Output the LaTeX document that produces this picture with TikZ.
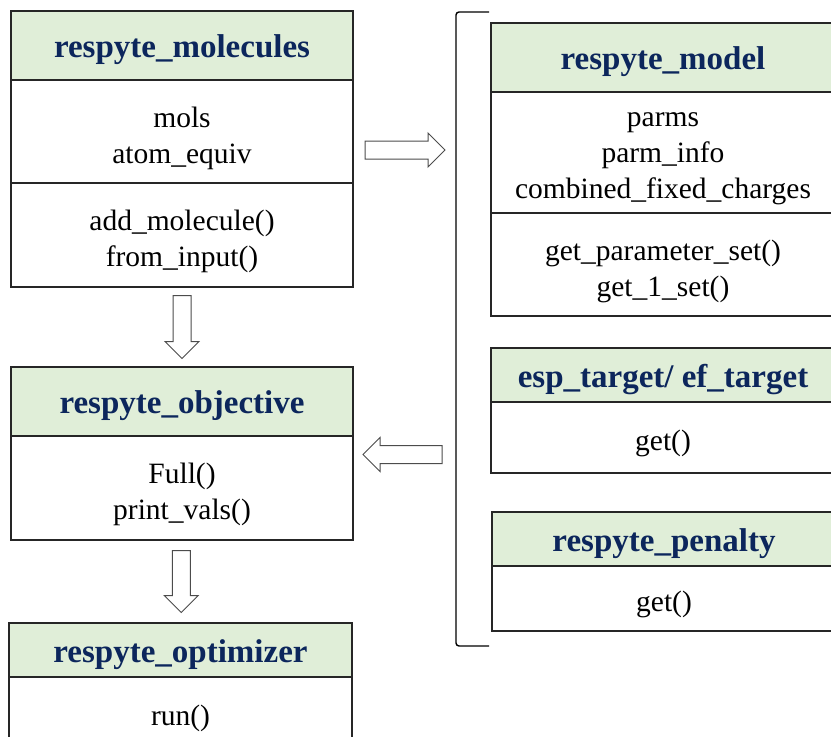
\documentclass[tikz,border=0pt]{standalone}
\usepackage{fontspec}
\setmainfont{Liberation Serif}
\usetikzlibrary{positioning, calc}
\definecolor{headfill}{RGB}{224,238,216}
\definecolor{headtext}{RGB}{12,38,92}
\tikzset{
    box/.style={draw=black!85, line width=1.4pt, inner sep=0pt, outer sep=0pt, align=center}, % one cell of a class box
    head/.style={box, fill=headfill, text=headtext, font=\fontsize{33}{38}\selectfont\bfseries, text height=31pt, text depth=7pt}, % class name
    body/.style={box, fill=white, font=\fontsize{29.5}{36}\selectfont}, % attributes and methods
    pics/blockarr/.style={code={ % hollow block arrow, #1 = half its length
        \draw[draw=black!70, fill=white, line width=1pt]
            (-#1,-9) -- ({#1-17},-9) -- ({#1-17},-17) -- (#1,0) -- ({#1-17},17) -- ({#1-17},9) -- (-#1,9) -- cycle;
    }},
}

\begin{document}
\begin{tikzpicture}[x=1pt, y=-1pt]
    \clip (0,0) rectangle (831,737);

    % left column
    \node[head, minimum width=342pt, minimum height=69pt, anchor=north west] (mol-head) at (11,11) {respyte\_molecules};
    \node[body, minimum width=342pt, minimum height=103pt, text height=63pt, text depth=0pt, below=0pt of mol-head] (mol-attr) {mols\\atom\_equiv};
    \node[body, minimum width=342pt, minimum height=104pt, text height=63pt, text depth=0pt, below=0pt of mol-attr] (mol-meth) {add\_molecule()\\from\_input()};

    \node[head, minimum width=342pt, minimum height=69pt, anchor=north west] (obj-head) at (11,367) {respyte\_objective};
    \node[body, minimum width=342pt, minimum height=104pt, text height=63pt, text depth=0pt, below=0pt of obj-head] (obj-meth) {Full()\\print\_vals()};

    \node[head, minimum width=343pt, minimum height=54pt, anchor=north west] (opt-head) at (9,623) {respyte\_optimizer};
    \node[body, minimum width=343pt, minimum height=72pt, text height=25pt, text depth=0pt, below=0pt of opt-head] (opt-meth) {run()};

    % right column
    \node[head, minimum width=344pt, minimum height=69pt, anchor=north west] (mod-head) at (491,23) {respyte\_model};
    \node[body, minimum width=344pt, minimum height=121pt, text height=91pt, text depth=0pt, below=0pt of mod-head] (mod-attr) {parms\\parm\_info\\combined\_fixed\_charges};
    \node[body, minimum width=344pt, minimum height=103pt, text height=63pt, text depth=0pt, below=0pt of mod-attr] (mod-meth) {get\_parameter\_set()\\get\_1\_set()};

    \node[head, minimum width=344pt, minimum height=54pt, anchor=north west] (tgt-head) at (491,348) {esp\_target/ ef\_target};
    \node[body, minimum width=344pt, minimum height=71pt, text height=25pt, text depth=0pt, below=0pt of tgt-head] (tgt-meth) {get()};

    \node[head, minimum width=344pt, minimum height=54pt, anchor=north west] (pen-head) at (492,512) {respyte\_penalty};
    \node[body, minimum width=344pt, minimum height=65pt, text height=25pt, text depth=0pt, below=0pt of pen-head] (pen-meth) {get()};

    % bracket round the right column
    \coordinate (brk-top) at (489,12);
    \coordinate (brk-bot) at (489,646);
    \draw[line width=1.4pt, rounded corners=3pt] (brk-top) -- (456,12) -- (456,646) -- (brk-bot);

    % block arrows
    \pic[rotate=-90] (arr-mol-obj) at ($(mol-meth.south)!0.5!(obj-head.north)$) {blockarr=31.5};
    \pic[rotate=-90] (arr-obj-opt) at ($(obj-meth.south)!0.5!(opt-head.north)$) {blockarr=31};
    \pic (arr-mol-grp) at (405,150) {blockarr=40};
    \pic[rotate=180] (arr-grp-obj) at (402.5,454.5) {blockarr=39.5};
\end{tikzpicture}
\end{document}
